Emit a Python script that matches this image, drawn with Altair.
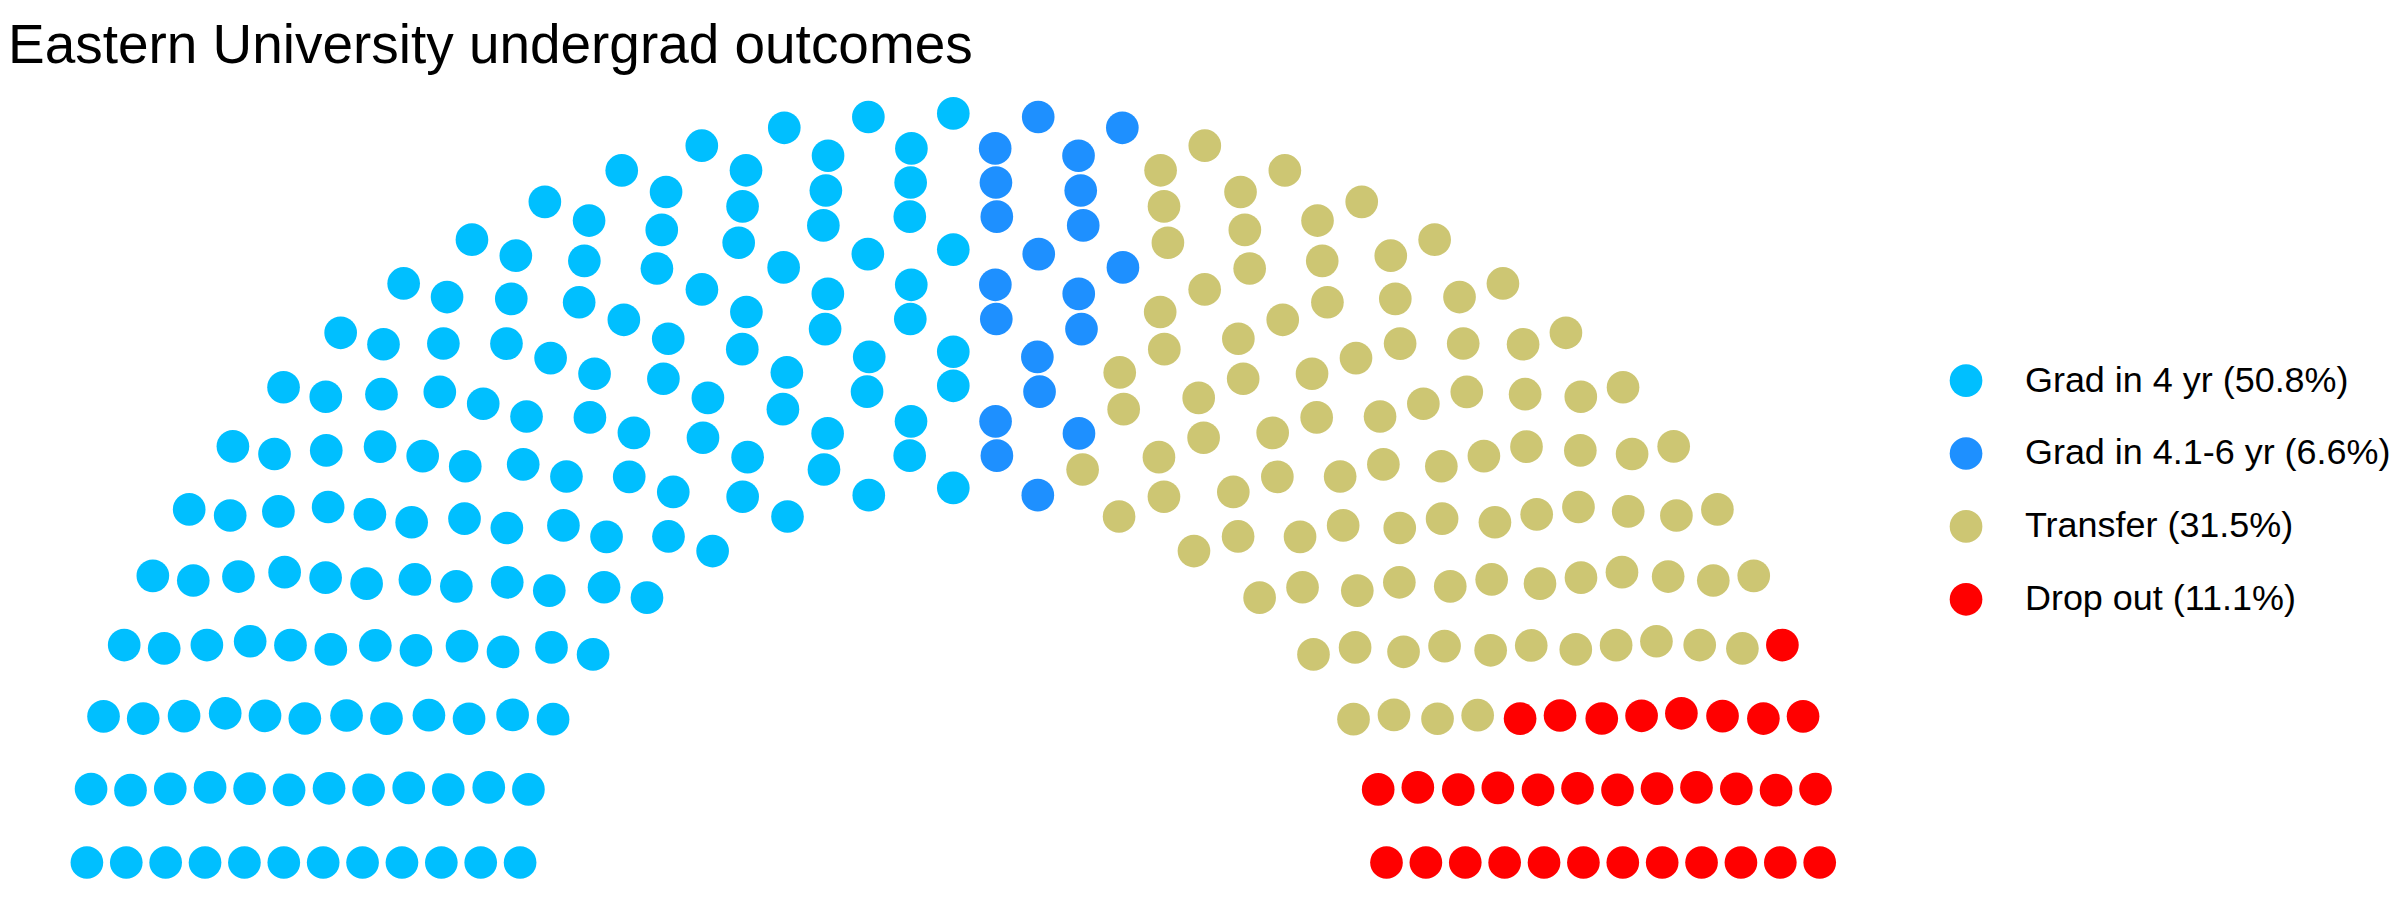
from fractions import Fraction
import numpy as np
import pandas as pd
import altair as alt

# ---- data ----
parties = ["Grad in 4 yr (50.8%)", "Grad in 4.1-6 yr (6.6%)", "Transfer (31.5%)", "Drop out (11.1%)"]
seats = [152, 20, 94, 33]
colors = ["#00BFFF", "#1E90FF", "#CDC673", "#FF0000"]
parl_rows = 12

# ---- semicircle parliament layout (ggparliament style) ----
total = sum(seats)
radii = [1 + Fraction(i, parl_rows - 1) for i in range(parl_rows)]
remaining = total
pts = []
for i, r in enumerate(radii):
    n = int(round(remaining * r / sum(radii[i:])))
    remaining -= n
    step = np.pi / (n - 1)
    for k in range(n):
        t = k * step
        pts.append((float(r) * np.cos(t), float(r) * np.sin(t), i + 1, t))
pts = np.array(pts)
order = np.lexsort((-pts[:, 2], -np.round(pts[:, 3], 12)))
pts = pts[order]
party_col = np.repeat(parties, seats)
df = pd.DataFrame({"x": pts[:, 0], "y": pts[:, 1], "party": party_col})

# ---- pixel geometry ----
T = 84
W = 1900
H = 808
u0 = -2.1821
u1 = u0 + W / 433.75
v1 = (862 - T) / 375
v0 = v1 - H / 375

chart = alt.Chart(df).mark_circle(size=1070, opacity=1).encode(
    x=alt.X("x:Q", scale=alt.Scale(domain=[u0, u1], nice=False, zero=False), axis=None),
    y=alt.Y("y:Q", scale=alt.Scale(domain=[v0, v1], nice=False, zero=False), axis=None),
    color=alt.Color(
        "party:N",
        scale=alt.Scale(domain=parties, range=colors),
        legend=alt.Legend(
            title=None, orient="none", legendX=1942.5, legendY=361.5 - T,
            labelFontSize=36, labelFont="Liberation Sans", labelColor="black",
            symbolSize=1070, symbolType="circle", symbolOpacity=1, symbolStrokeWidth=0,
            rowPadding=37, labelOffset=41, labelLimit=0,
        ),
    ),
).properties(
    width=W, height=H,
    title=alt.Title("Eastern University undergrad outcomes", fontSize=55, font="Liberation Sans",
                    fontWeight="normal", anchor="start", color="black", offset=10),
    padding={"left": 0, "top": 11, "right": 0, "bottom": 0},
).configure_view(stroke=None)

chart.save("out.html", embed_options={"renderer": "svg", "actions": False})
